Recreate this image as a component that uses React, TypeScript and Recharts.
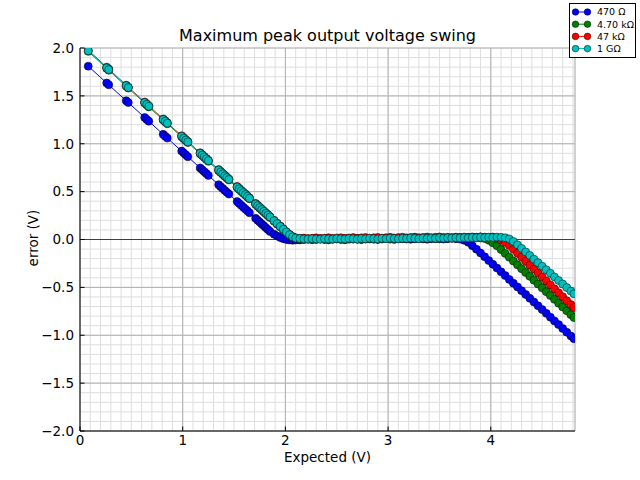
import { LineChart, Line, XAxis, YAxis, CartesianGrid, ReferenceLine } from 'recharts';

// expected output voltage (V)
const expected = [
  0.08,
  0.26, 0.28,
  0.45, 0.47,
  0.63, 0.65, 0.67,
  0.81, 0.83, 0.85,
  0.99, 1.01, 1.03, 1.05,
  1.17, 1.19, 1.21, 1.23, 1.25,
  1.35, 1.37, 1.39, 1.41, 1.43, 1.45,
  1.53, 1.55, 1.57, 1.59, 1.61, 1.63, 1.65,
  1.71, 1.73, 1.75, 1.77, 1.79, 1.81, 1.83, 1.85,
  1.89, 1.92, 1.95, 1.98, 2.01, 2.04, 2.07, 2.10,
  2.14, 2.18, 2.22, 2.26, 2.30, 2.34, 2.38, 2.42, 2.46, 2.50,
  2.54, 2.58, 2.62, 2.66, 2.70, 2.74, 2.78, 2.82, 2.86, 2.90,
  2.94, 2.98, 3.02, 3.06, 3.10, 3.14, 3.18, 3.22, 3.26, 3.30,
  3.34, 3.38, 3.42, 3.46, 3.50, 3.54, 3.58, 3.62, 3.66, 3.70,
  3.74, 3.78, 3.82, 3.86, 3.90, 3.94, 3.98, 4.02, 4.06, 4.10,
  4.14, 4.18, 4.22, 4.26, 4.30, 4.34, 4.38, 4.42, 4.46, 4.50,
  4.54, 4.58, 4.62, 4.66, 4.70, 4.74, 4.78, 4.81,
];

// error (V) per load
const err470 = [
  1.81,
  1.635, 1.615,
  1.449, 1.43,
  1.274, 1.254, 1.235,
  1.098, 1.079, 1.059,
  0.923, 0.903, 0.884, 0.864,
  0.747, 0.728, 0.708, 0.689, 0.669,
  0.572, 0.552, 0.533, 0.513, 0.494, 0.474,
  0.396, 0.377, 0.357, 0.338, 0.318, 0.299, 0.279,
  0.221, 0.201, 0.182, 0.162, 0.143, 0.123, 0.104, 0.084,
  0.055, 0.036, 0.02, 0.008, 0.0, -0.005, -0.008, -0.006,
  -0.004, 0.0, 0.003, -0.002, 0.001, 0.004, 0.0, -0.003, 0.002, 0.005,
  0.001, -0.002, 0.003, 0.006, 0.002, -0.001, 0.004, 0.007, 0.003, 0.0,
  0.005, 0.008, 0.004, 0.001, 0.006, 0.009, 0.005, 0.002, 0.007, 0.01,
  0.006, 0.003, 0.008, 0.011, 0.007, 0.004, 0.009, 0.012, 0.008, 0.004,
  -0.008, -0.03, -0.065, -0.101, -0.141, -0.18, -0.22, -0.259, -0.298, -0.338,
  -0.377, -0.417, -0.456, -0.495, -0.535, -0.574, -0.614, -0.653, -0.692, -0.732,
  -0.771, -0.811, -0.85, -0.889, -0.929, -0.968, -1.008, -1.037,
];

const err4k7 = [
  1.965,
  1.787, 1.768,
  1.601, 1.581,
  1.425, 1.405, 1.385,
  1.248, 1.229, 1.209,
  1.072, 1.052, 1.033, 1.013,
  0.895, 0.876, 0.856, 0.837, 0.817,
  0.719, 0.699, 0.68, 0.66, 0.641, 0.621,
  0.543, 0.523, 0.503, 0.484, 0.464, 0.445, 0.425,
  0.366, 0.347, 0.327, 0.307, 0.288, 0.268, 0.249, 0.229,
  0.19, 0.16, 0.131, 0.102, 0.073, 0.046, 0.024, 0.012,
  0.006, 0.003, 0.007, 0.002, 0.005, 0.008, 0.004, 0.001, 0.006, 0.009,
  0.005, 0.002, 0.008, 0.004, 0.007, 0.003, 0.009, 0.006, 0.01, 0.005,
  0.008, 0.011, 0.006, 0.01, 0.013, 0.009, 0.007, 0.012, 0.01, 0.014,
  0.011, 0.015, 0.012, 0.009, 0.014, 0.016, 0.012, 0.015, 0.013, 0.017,
  0.014, 0.018, 0.016, 0.019, 0.015, 0.01, -0.008, -0.035, -0.065, -0.105,
  -0.145, -0.185, -0.225, -0.265, -0.305, -0.345, -0.385, -0.425, -0.465, -0.505,
  -0.545, -0.585, -0.625, -0.665, -0.705, -0.745, -0.785, -0.815,
];

const err47k = [
  1.978,
  1.8, 1.78,
  1.612, 1.591,
  1.436, 1.416, 1.395,
  1.259, 1.239, 1.219,
  1.083, 1.062, 1.043, 1.023,
  0.906, 0.886, 0.866, 0.847, 0.827,
  0.73, 0.71, 0.69, 0.67, 0.651, 0.631,
  0.554, 0.534, 0.513, 0.494, 0.474, 0.455, 0.435,
  0.377, 0.357, 0.337, 0.317, 0.298, 0.278, 0.259, 0.239,
  0.2, 0.17, 0.141, 0.111, 0.081, 0.053, 0.031, 0.018,
  0.012, 0.015, 0.009, 0.013, 0.017, 0.01, 0.014, 0.018, 0.011, 0.016,
  0.019, 0.012, 0.016, 0.02, 0.013, 0.017, 0.021, 0.014, 0.018, 0.022,
  0.015, 0.019, 0.023, 0.016, 0.02, 0.024, 0.017, 0.021, 0.025, 0.018,
  0.022, 0.026, 0.019, 0.023, 0.027, 0.02, 0.024, 0.021, 0.025, 0.022,
  0.026, 0.023, 0.027, 0.024, 0.028, 0.025, 0.022, 0.026, 0.015, -0.005,
  -0.03, -0.062, -0.103, -0.144, -0.185, -0.227, -0.268, -0.309, -0.35, -0.391,
  -0.433, -0.474, -0.515, -0.556, -0.597, -0.639, -0.68, -0.71,
];

const err1G = [
  1.97,
  1.793, 1.774,
  1.607, 1.587,
  1.431, 1.411, 1.391,
  1.254, 1.235, 1.215,
  1.078, 1.058, 1.039, 1.019,
  0.901, 0.882, 0.862, 0.843, 0.823,
  0.725, 0.705, 0.686, 0.666, 0.647, 0.627,
  0.549, 0.529, 0.509, 0.49, 0.47, 0.451, 0.431,
  0.372, 0.353, 0.333, 0.313, 0.294, 0.274, 0.255, 0.235,
  0.196, 0.166, 0.137, 0.108, 0.078, 0.05, 0.028, 0.015,
  0.01, 0.006, 0.004, 0.008, 0.005, 0.003, 0.009, 0.006, 0.004, 0.01,
  0.007, 0.005, 0.011, 0.008, 0.004, 0.01, 0.007, 0.013, 0.009, 0.006,
  0.012, 0.009, 0.014, 0.01, 0.008, 0.013, 0.011, 0.015, 0.012, 0.009,
  0.015, 0.012, 0.016, 0.013, 0.018, 0.014, 0.017, 0.015, 0.019, 0.016,
  0.02, 0.017, 0.021, 0.019, 0.023, 0.02, 0.024, 0.022, 0.025, 0.023,
  0.018, 0.006, -0.02, -0.056, -0.093, -0.13, -0.167, -0.205, -0.242, -0.279,
  -0.316, -0.353, -0.391, -0.428, -0.465, -0.502, -0.539, -0.567,
];

const seriesKeys = ['r470', 'r4k7', 'r47k', 'r1g'];
const seriesNames = ['470 Ω', '4.70 kΩ', '47 kΩ', '1 GΩ'];
const seriesColors = ['#0000ff', '#008000', '#ff0000', '#00bfbf'];

const xMajorTicks = [0, 1, 2, 3, 4];
const yMajorTicks = [-2, -1.5, -1, -0.5, 0, 0.5, 1, 1.5, 2];
const xMinorTicks = Array.from({ length: 49 }, (_, i) => i / 10);
const yMinorTicks = Array.from({ length: 41 }, (_, i) => (i - 20) / 10);

const X_DOMAIN = [0, 4.82];
const Y_DOMAIN = [-2, 2];
const FONT = "'DejaVu Sans', sans-serif";

const data = expected.map((x, i) => ({
  x,
  r470: err470[i],
  r4k7: err4k7[i],
  r47k: err47k[i],
  r1g: err1G[i],
}));

const fmtY = (v: number) => v.toFixed(1).replace('-', '\u2212');
const blank = () => '';

function LegendBox() {
  return (
    <svg width={68} height={57} style={{ position: 'absolute', left: 568, top: 2 }}>
      <rect x={1.5} y={1.5} width={66} height={54} fill="#fff" stroke="#000" strokeWidth={1} />
      {seriesNames.map((name, i) => {
        const cy = 10 + i * 12.2;
        return (
          <g key={name}>
            <line x1={7.5} x2={19.5} y1={cy} y2={cy} stroke={seriesColors[i]} strokeWidth={1} />
            <circle cx={7.5} cy={cy} r={3.3} fill={seriesColors[i]} stroke="#000" strokeWidth={0.5} />
            <circle cx={19.5} cy={cy} r={3.3} fill={seriesColors[i]} stroke="#000" strokeWidth={0.5} />
            <text x={29} y={cy + 3.3} fontSize={9.5} fontFamily={FONT} fill="#000">
              {name}
            </text>
          </g>
        );
      })}
    </svg>
  );
}

export default function App() {
  return (
    <div style={{ position: 'absolute', left: 0, top: 0, width: 640, height: 480, background: '#fff' }}>
      <LineChart
        width={640}
        height={480}
        data={data}
        margin={{ top: 48, right: 65, bottom: 9, left: 30 }}
      >
        {/* minor grid + minor ticks */}
        <XAxis
          xAxisId="minorB"
          type="number"
          dataKey="x"
          domain={X_DOMAIN}
          allowDataOverflow
          ticks={xMinorTicks}
          interval={0}
          height={0}
          tickSize={-2.5}
          tickFormatter={blank}
          axisLine={false}
          tickLine={{ stroke: '#000' }}
        />
        <XAxis
          xAxisId="main"
          type="number"
          dataKey="x"
          domain={X_DOMAIN}
          allowDataOverflow
          ticks={xMajorTicks}
          interval={0}
          height={40}
          tickSize={-4.5}
          tickMargin={8.5}
          axisLine={{ stroke: '#000', strokeWidth: 1 }}
          tickLine={{ stroke: '#000' }}
          tick={{ fontSize: 13.5, fill: '#000', fontFamily: FONT }}
        />
        <XAxis
          xAxisId="topMain"
          orientation="top"
          type="number"
          dataKey="x"
          domain={X_DOMAIN}
          allowDataOverflow
          ticks={xMajorTicks}
          interval={0}
          height={0}
          tickSize={-4.5}
          tickFormatter={blank}
          axisLine={{ stroke: '#000', strokeWidth: 1 }}
          tickLine={{ stroke: '#000' }}
        />
        <XAxis
          xAxisId="topMinor"
          orientation="top"
          type="number"
          dataKey="x"
          domain={X_DOMAIN}
          allowDataOverflow
          ticks={xMinorTicks}
          interval={0}
          height={0}
          tickSize={-2.5}
          tickFormatter={blank}
          axisLine={false}
          tickLine={{ stroke: '#000' }}
        />
        <YAxis
          yAxisId="minorL"
          type="number"
          domain={Y_DOMAIN}
          allowDataOverflow
          ticks={yMinorTicks}
          interval={0}
          width={0}
          tickSize={-2.5}
          tickFormatter={blank}
          axisLine={false}
          tickLine={{ stroke: '#000' }}
        />
        <YAxis
          yAxisId="main"
          type="number"
          domain={Y_DOMAIN}
          allowDataOverflow
          ticks={yMajorTicks}
          interval={0}
          width={50}
          tickSize={-4.5}
          tickMargin={10.5}
          tickFormatter={fmtY}
          axisLine={{ stroke: '#000', strokeWidth: 1 }}
          tickLine={{ stroke: '#000' }}
          tick={{ fontSize: 13.5, fill: '#000', fontFamily: FONT }}
        />
        <YAxis
          yAxisId="rightMain"
          orientation="right"
          type="number"
          domain={Y_DOMAIN}
          allowDataOverflow
          ticks={yMajorTicks}
          interval={0}
          width={0}
          tickSize={-4.5}
          tickFormatter={blank}
          axisLine={{ stroke: '#000', strokeWidth: 1 }}
          tickLine={{ stroke: '#000' }}
        />
        <YAxis
          yAxisId="rightMinor"
          orientation="right"
          type="number"
          domain={Y_DOMAIN}
          allowDataOverflow
          ticks={yMinorTicks}
          interval={0}
          width={0}
          tickSize={-2.5}
          tickFormatter={blank}
          axisLine={false}
          tickLine={{ stroke: '#000' }}
        />
        <CartesianGrid xAxisId="minorB" yAxisId="minorL" stroke="#dedede" strokeWidth={1} />
        <CartesianGrid xAxisId="main" yAxisId="main" stroke="#b0b0b0" strokeWidth={1} />
        <ReferenceLine xAxisId="main" yAxisId="main" y={0} stroke="#404040" strokeWidth={1} />
        {seriesKeys.map((key, i) => (
          <Line
            key={key}
            xAxisId="main"
            yAxisId="main"
            type="linear"
            dataKey={key}
            name={seriesNames[i]}
            stroke={seriesColors[i]}
            strokeWidth={1}
            dot={{ r: 4, fill: seriesColors[i], stroke: '#000', strokeWidth: 0.5 }}
            isAnimationActive={false}
          />
        ))}
      </LineChart>
      <svg width={640} height={480} style={{ position: 'absolute', left: 0, top: 0, pointerEvents: 'none' }}>
        <text x={327.5} y={41} textAnchor="middle" fontSize={16} fontFamily={FONT} fill="#000">
          Maximum peak output voltage swing
        </text>
        <text x={327.5} y={462} textAnchor="middle" fontSize={13.5} fontFamily={FONT} fill="#000">
          Expected (V)
        </text>
        <text
          x={38}
          y={238}
          textAnchor="middle"
          fontSize={13.5}
          fontFamily={FONT}
          fill="#000"
          transform="rotate(-90 38 238)"
        >
          error (V)
        </text>
      </svg>
      <LegendBox />
    </div>
  );
}
